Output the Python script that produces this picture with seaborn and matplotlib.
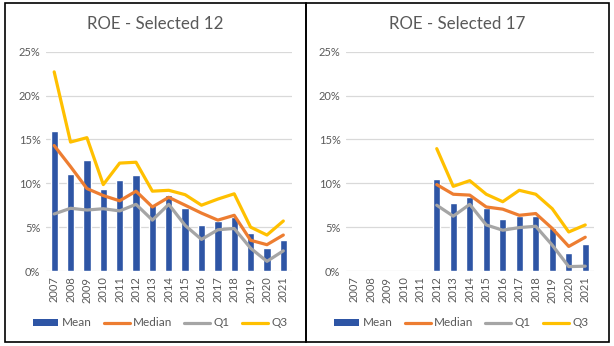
import numpy as np
import pandas as pd
import matplotlib
matplotlib.use("Agg")
import matplotlib.pyplot as plt
from matplotlib.patches import Rectangle, Patch
from matplotlib.lines import Line2D
from matplotlib.ticker import PercentFormatter
import seaborn as sns

years = [str(y) for y in range(2007, 2022)]

# Left panel: Selected 12 (values in %)
left_years = years
left_mean = [16.0, 11.1, 12.6, 9.4, 10.4, 10.9, 7.5, 8.7, 7.2, 5.2, 5.7, 6.1, 4.3, 2.6, 3.5]
left_median = [14.3, 11.9, 9.4, 8.6, 8.0, 9.1, 7.3, 8.4, 7.5, 6.6, 5.8, 6.35, 3.5, 3.0, 4.1]
left_q1 = [6.5, 7.15, 6.95, 7.1, 6.85, 7.6, 5.8, 7.6, 5.2, 3.6, 4.7, 4.85, 2.6, 1.1, 2.3]
left_q3 = [22.7, 14.7, 15.2, 9.85, 12.3, 12.4, 9.1, 9.2, 8.7, 7.5, 8.2, 8.8, 5.0, 4.1, 5.7]

# Right panel: Selected 17 (values in %), data from 2012
right_years = [str(y) for y in range(2012, 2022)]
right_mean = [10.45, 7.7, 8.45, 7.2, 5.9, 6.25, 6.25, 4.85, 2.1, 3.05]
right_median = [9.85, 8.75, 8.65, 7.3, 7.05, 6.35, 6.55, 4.85, 2.8, 3.85]
right_q1 = [7.5, 6.25, 7.6, 5.25, 4.65, 4.95, 5.1, 2.95, 0.5, 0.55]
right_q3 = [13.95, 9.65, 10.3, 8.75, 7.9, 9.2, 8.75, 7.1, 4.45, 5.25]

titles = ["ROE - Selected 12", "ROE - Selected 17"]
series_names = ["Mean", "Median", "Q1", "Q3"]

C_BAR = "#2E55A5"
C_MED = "#ED7D31"
C_Q1 = "#A5A5A5"
C_Q3 = "#FFC000"
C_TXT = "#595959"
C_GRID = "#D9D9D9"

sns.set_theme(style="white")
plt.rcParams["font.family"] = ["Lato", "DejaVu Sans"]

W, H = 614, 346
fig = plt.figure(figsize=(W / 100, H / 100), dpi=100)
fig.patch.set_facecolor("white")


def px_axes(x0, x1, ytop, ybot):
    return fig.add_axes([x0 / W, 1 - ybot / H, (x1 - x0) / W, (ybot - ytop) / H])


panels = [
    dict(axpos=(46, 291.5, 51.7, 271), yrs=left_years, mean=left_mean, med=left_median,
         q1=left_q1, q3=left_q3, title=titles[0], tx=155, lx=160),
    dict(axpos=(346, 593.5, 51.7, 271), yrs=right_years, mean=right_mean, med=right_median,
         q1=right_q1, q3=right_q3, title=titles[1], tx=457, lx=461),
]

for p in panels:
    ax = px_axes(*p["axpos"])
    df = pd.DataFrame({
        "year": p["yrs"],
        "pos": [years.index(y) for y in p["yrs"]],
        "Mean": np.array(p["mean"]) / 100,
        "Median": np.array(p["med"]) / 100,
        "Q1": np.array(p["q1"]) / 100,
        "Q3": np.array(p["q3"]) / 100,
    })
    sns.barplot(data=df, x="year", y="Mean", order=years, color=C_BAR, width=0.45,
                saturation=1, ax=ax, zorder=2)
    for name, col in [("Median", C_MED), ("Q1", C_Q1), ("Q3", C_Q3)]:
        sns.lineplot(data=df, x="pos", y=name, color=col, linewidth=2.3, ax=ax,
                     zorder=3, solid_capstyle="round", solid_joinstyle="round")
    ax.set_xlim(-0.5, len(years) - 0.5)
    ax.set_ylim(0, 0.25)
    ax.set_yticks(np.arange(0, 0.2501, 0.05))
    ax.yaxis.set_major_formatter(PercentFormatter(1.0, decimals=0))
    ax.set_xticks(range(len(years)))
    ax.set_xticklabels(years, rotation=90)
    ax.set_xlabel("")
    ax.set_ylabel("")
    ax.grid(axis="y", color=C_GRID, linewidth=0.9, zorder=0)
    ax.set_axisbelow(True)
    for s in ax.spines.values():
        s.set_visible(False)
    ax.tick_params(axis="both", length=0, labelsize=8, colors=C_TXT, pad=4)
    ax.set_facecolor("none")
    fig.text(p["tx"] / W, 1 - 24 / H, p["title"], ha="center", va="center",
             fontsize=12.2, color=C_TXT)
    handles = [Patch(facecolor=C_BAR, edgecolor="none"),
               Line2D([], [], color=C_MED, linewidth=2.3),
               Line2D([], [], color=C_Q1, linewidth=2.3),
               Line2D([], [], color=C_Q3, linewidth=2.3)]
    leg = fig.legend(handles, series_names, loc="center", ncol=4, frameon=False,
                     bbox_to_anchor=(p["lx"] / W, 1 - 323 / H), fontsize=8.5,
                     handlelength=2.2, handleheight=0.5, handletextpad=0.3,
                     columnspacing=1.0, labelcolor=C_TXT)

# Outer frames of the two chart boxes
for (x0, x1) in [(5, 306), (306, 609)]:
    fig.add_artist(Rectangle((x0 / W, 1 - 342 / H), (x1 - x0) / W, (342 - 3) / H,
                             transform=fig.transFigure, fill=False,
                             edgecolor="black", linewidth=1.2))

fig.savefig("out.png", dpi=100)
